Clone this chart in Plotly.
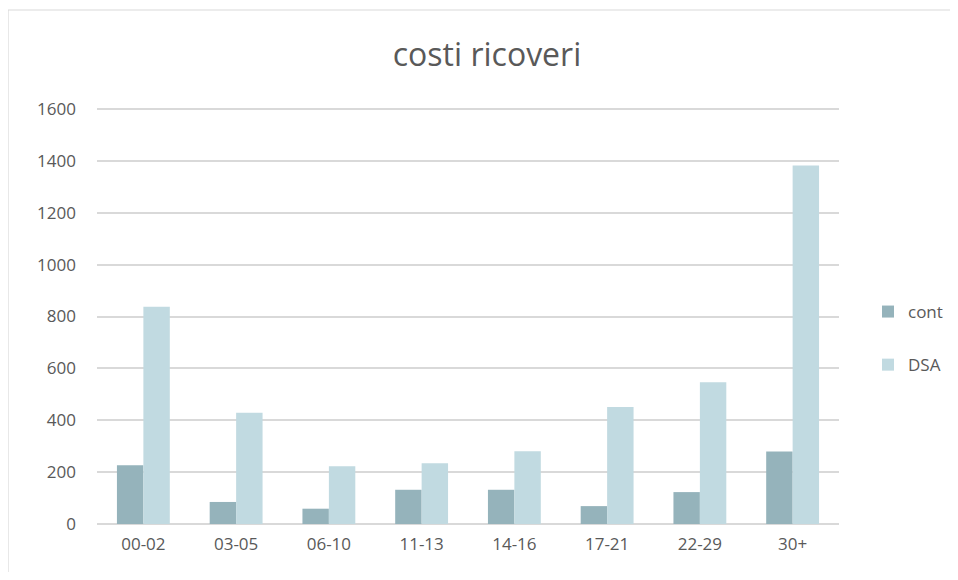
import plotly.graph_objects as go

categories = ["00-02", "03-05", "06-10", "11-13", "14-16", "17-21", "22-29", "30+"]
cont = [227, 85, 59, 132, 132, 69, 123, 280]
dsa = [838, 429, 223, 234, 281, 451, 547, 1382]
y_ticks = [0, 200, 400, 600, 800, 1000, 1200, 1400, 1600]

# page offset (default body margin of the html page)
OFF = 8
W, H = 958 - 2 * OFF, 580 - 2 * OFF
# desired plot area in page pixels
PL, PR, PT, PB = 97, 839, 107, 524
L, R, T, B = PL - OFF, (OFF + W) - PR, PT - OFF, (OFF + H) - PB
YMAX = 1608

fig = go.Figure()
fig.add_trace(go.Bar(x=categories, y=cont, name="cont", marker_color="#95B3BB",
                     marker_line_width=0, legendgroup="a"))
fig.add_trace(go.Bar(x=categories, y=dsa, name="DSA", marker_color="#C1DAE1",
                     marker_line_width=0, legendgroup="b"))

pw = PR - PL
ph = PB - PT
def px_x(p):
    return (p - PL) / pw
def px_y(p):
    return (PB - p) / ph

fig.update_layout(
    width=W, height=H,
    margin=dict(l=L, r=R, t=T, b=B, autoexpand=False),
    paper_bgcolor="white", plot_bgcolor="white",
    font=dict(family="Open Sans", color="#595959", size=17),
    title=dict(text="costi ricoveri", x=(487 - OFF) / W, xanchor="center",
               y=1 - (55 - OFF) / H, yanchor="middle",
               font=dict(size=32, color="#595959", family="Open Sans")),
    barmode="group", bargap=0.43, bargroupgap=0,
    showlegend=True,
    legend=dict(x=px_x(868), xanchor="left", y=px_y(294), yanchor="top",
                font=dict(size=17, color="#595959"), tracegroupgap=28,
                bgcolor="rgba(0,0,0,0)", itemwidth=30),
    xaxis=dict(type="category", showgrid=False, showline=False, ticks="",
               tickfont=dict(size=17), ticklabelstandoff=8),
    yaxis=dict(range=[0, YMAX], tickvals=y_ticks, showgrid=True, gridcolor="#D9D9D9",
               gridwidth=1.5, zeroline=True, zerolinecolor="#D9D9D9", zerolinewidth=1.5,
               showline=False, ticks="", tickfont=dict(size=17), ticklabelstandoff=20),
    shapes=[dict(type="rect", xref="paper", yref="paper",
                 x0=px_x(8), x1=px_x(1000), y0=px_y(640), y1=px_y(10),
                 line=dict(color="#D9D9D9", width=1.2), fillcolor="rgba(0,0,0,0)",
                 layer="below")],
)

fig.write_html("out.html")
